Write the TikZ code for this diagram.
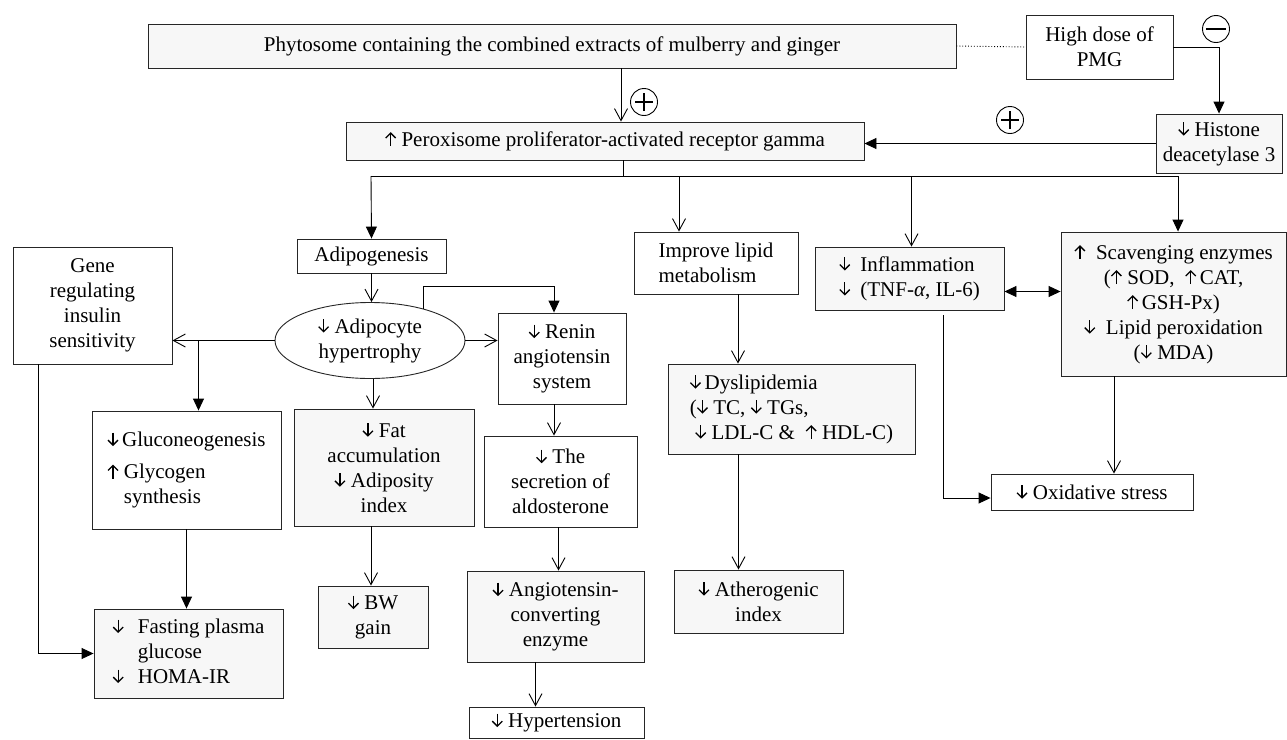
\documentclass[tikz,border=0pt]{standalone}
\usepackage{fontspec}
\setmainfont{Liberation Serif}
\usetikzlibrary{arrows.meta,shapes.geometric}
\definecolor{boxgray}{HTML}{F7F7F7}
\newcommand{\dn}{\tikz[baseline=0pt]\draw[line width=1.3pt,-{Straight Barb[length=5pt,width=10pt,line width=1.3pt]}] (0pt,14pt) -- (0pt,0.5pt);}
\newcommand{\up}{\tikz[baseline=0pt]\draw[line width=1.3pt,-{Straight Barb[length=5pt,width=10pt,line width=1.3pt]}] (0pt,0pt) -- (0pt,14pt);}

\begin{document}
\begin{tikzpicture}[x=1pt,y=-1pt,
  box/.style={draw=black!85, line width=0.9pt, fill=white, inner sep=2pt, align=center, font=\fontsize{21}{25}\selectfont},
  gbox/.style={box, fill=boxgray},
  sym/.style={draw, circle, line width=0.9pt, minimum size=27pt, inner sep=0pt},
  varr/.style={line width=0.9pt, -{Straight Barb[length=12pt,width=13pt]}},
  farr/.style={line width=0.9pt, -{Triangle[length=12pt,width=11pt]}}]
\useasboundingbox (0,0) rectangle (1287,739);

\node[gbox, minimum width=808pt, minimum height=44pt] (phyto) at (552,46) {Phytosome containing the combined extracts of mulberry and ginger};
\node[box, minimum width=147pt, minimum height=64pt] (dose) at (1099.5,47) {High dose of\\PMG};
\node[gbox, minimum width=126pt, minimum height=59pt, inner sep=0pt] (hdac) at (1219,143.5) {\dn\ Histone\\deacetylase 3};
\node[gbox, minimum width=518pt, minimum height=38pt] (ppar) at (605,141) {\up\ Peroxisome proliferator-activated receptor gamma};

\node[box, minimum width=149pt, minimum height=34pt] (adipo) at (371.5,256) {Adipogenesis};
\node[box, ellipse, inner sep=0pt, minimum width=190pt, minimum height=76pt] (hyper) at (370,340.5) {\dn\ Adipocyte\\hypertrophy};
\node[box, minimum width=159pt, minimum height=117pt] (gene) at (92.5,305.5) {Gene\\regulating\\insulin\\sensitivity};
\node[box, minimum width=189pt, minimum height=118pt, align=left] (gluco) at (186.5,470) {\dn\,Gluconeogenesis\\[7pt]\up\ Glycogen\\\phantom{\up\ }synthesis};
\node[gbox, minimum width=189pt, minimum height=89pt] (fpg) at (188.5,653.5) {\begin{tabular}{@{}l@{\hspace{14pt}}l@{}}\dn & Fasting plasma\\ & glucose\\ \dn & HOMA-IR\end{tabular}};
\node[gbox, minimum width=180pt, minimum height=117pt] (fat) at (384,467.5) {\dn\ Fat\\accumulation\\\dn\ Adiposity\\index};
\node[gbox, minimum width=110pt, minimum height=62pt] (bw) at (373,617) {\dn\ BW\\gain};

\node[box, minimum width=128pt, minimum height=91pt] (renin) at (562,358.5) {\dn\ Renin\\angiotensin\\system};
\node[box, minimum width=153pt, minimum height=91pt] (aldo) at (560.5,481.5) {\dn\ The\\secretion of\\aldosterone};
\node[gbox, minimum width=177pt, minimum height=91pt] (ace) at (555.5,616.5) {\dn\ Angiotensin-\\converting\\enzyme};
\node[box, minimum width=175pt, minimum height=31pt, inner sep=0pt] (htn) at (556.5,722.5) {\dn\ Hypertension};

\node[box, minimum width=164pt, minimum height=62pt, align=left] (lipid) at (716,263) {Improve lipid\\metabolism};
\node[gbox, minimum width=247pt, minimum height=90pt, align=left] (dysl) at (791.5,409) {\dn\,Dyslipidemia\\(\dn\ TC, \dn\ TGs,\\\ \dn\ LDL-C \&\ \ \up\ HDL-C)};
\node[gbox, minimum width=169pt, minimum height=63pt] (athero) at (758.5,601.5) {\dn\ Atherogenic\\index};

\node[gbox, minimum width=189pt, minimum height=63pt] (inflam) at (909.5,278.5) {\begin{tabular}{@{}l@{\hspace{10pt}}l@{}}\dn & Inflammation\\ \dn & (TNF-\textit{α}, IL-6)\end{tabular}};
\node[gbox, minimum width=225pt, minimum height=144pt, inner sep=0pt] (scav) at (1173.5,304) {\up\ \ Scavenging enzymes\\(\up\ SOD,\ \ \up\,CAT,\\\up\,GSH-Px)\\\dn\ \ Lipid peroxidation\\(\dn\ MDA)};
\node[box, minimum width=202pt, minimum height=36pt] (oxi) at (1092,492) {\dn\ Oxidative stress};

% plus / minus marks
\node[sym] (plusA) at (644,102) {};
\node[sym] (plusB) at (1010,120) {};
\node[sym] (minusA) at (1216,29) {};
\draw[line width=2.2pt] ([xshift=-9pt]plusA.center) -- ([xshift=9pt]plusA.center);
\draw[line width=2.2pt] ([yshift=-9pt]plusA.center) -- ([yshift=9pt]plusA.center);
\draw[line width=2.2pt] ([xshift=-9pt]plusB.center) -- ([xshift=9pt]plusB.center);
\draw[line width=2.2pt] ([yshift=-9pt]plusB.center) -- ([yshift=9pt]plusB.center);
\draw[line width=2.2pt] ([xshift=-10pt]minusA.center) -- ([xshift=10pt]minusA.center);

% top part
\draw[line width=0.9pt, dotted] (phyto.east) -- (dose.west);
\draw[farr] (dose.east) -| (hdac.north);
\draw[farr] (hdac.west) -- (hdac.west -| ppar.east);
\draw[varr] ([xshift=69pt]phyto.south) -- ([xshift=16pt]ppar.north);

% bus
\coordinate (busL) at (371,176);
\coordinate (busR) at (1178,176);
\draw[line width=0.9pt] ([xshift=18pt]ppar.south) -- ([xshift=18pt]ppar.south |- busL);
\draw[line width=0.9pt] (busL) -- (busR);
\draw[farr] (busL) -- (adipo.north);
\draw[varr] ([xshift=-37pt]lipid.north |- busL) -- ([xshift=-37pt]lipid.north);
\draw[varr] ([xshift=2pt]inflam.north |- busL) -- ([xshift=2pt]inflam.north);
\draw[farr] (busR) -- (busR |- scav.north);

% adipocyte branch
\draw[varr] (adipo.south) -- (adipo.south |- hyper.north);
\draw[varr] (hyper.west) -- (hyper.west -| gene.east);
\draw[farr] ([xshift=12pt]gluco.north |- hyper.west) -- ([xshift=12pt]gluco.north);
\draw[farr] (gluco.south) -- (gluco.south |- fpg.north);
\draw[farr] ([xshift=-54pt]gene.south) |- (fpg.west);
\draw[varr] ([xshift=3pt]hyper.south) -- ([xshift=3pt]hyper.south |- fat.north);
\draw[varr] ([xshift=-2pt]bw.north |- fat.south) -- ([xshift=-2pt]bw.north);
\draw[varr] (hyper.east) -- (hyper.east -| renin.west);
\draw[farr] (hyper.31) -- ++(0,-22) -| ([xshift=-8pt]renin.north);
\draw[varr] ([xshift=-8pt]renin.south) -- ([xshift=-8pt]renin.south |- aldo.north);
\draw[varr] ([xshift=-2pt]aldo.south) -- ([xshift=-2pt]aldo.south |- ace.north);
\draw[varr] ([xshift=-20pt]ace.south) -- ([xshift=-20pt]ace.south |- htn.north);

% lipid branch
\draw[varr] ([xshift=22pt]lipid.south) -- ([xshift=22pt]lipid.south |- dysl.north);
\draw[varr] ([xshift=-53pt]dysl.south) -- ([xshift=-53pt]dysl.south |- athero.north);

% oxidative branch
\draw[line width=0.9pt, {Triangle[length=12pt,width=11pt]}-{Triangle[length=12pt,width=11pt]}] ([yshift=-13pt]inflam.east) -- ([yshift=-13pt]inflam.east -| scav.west);
\draw[farr] ([xshift=33.5pt,yshift=-5pt]inflam.south) |- ([yshift=-6pt]oxi.west);
\draw[varr] ([xshift=-59.5pt]scav.south) -- ([xshift=-59.5pt]scav.south |- oxi.north);
\end{tikzpicture}
\end{document}
